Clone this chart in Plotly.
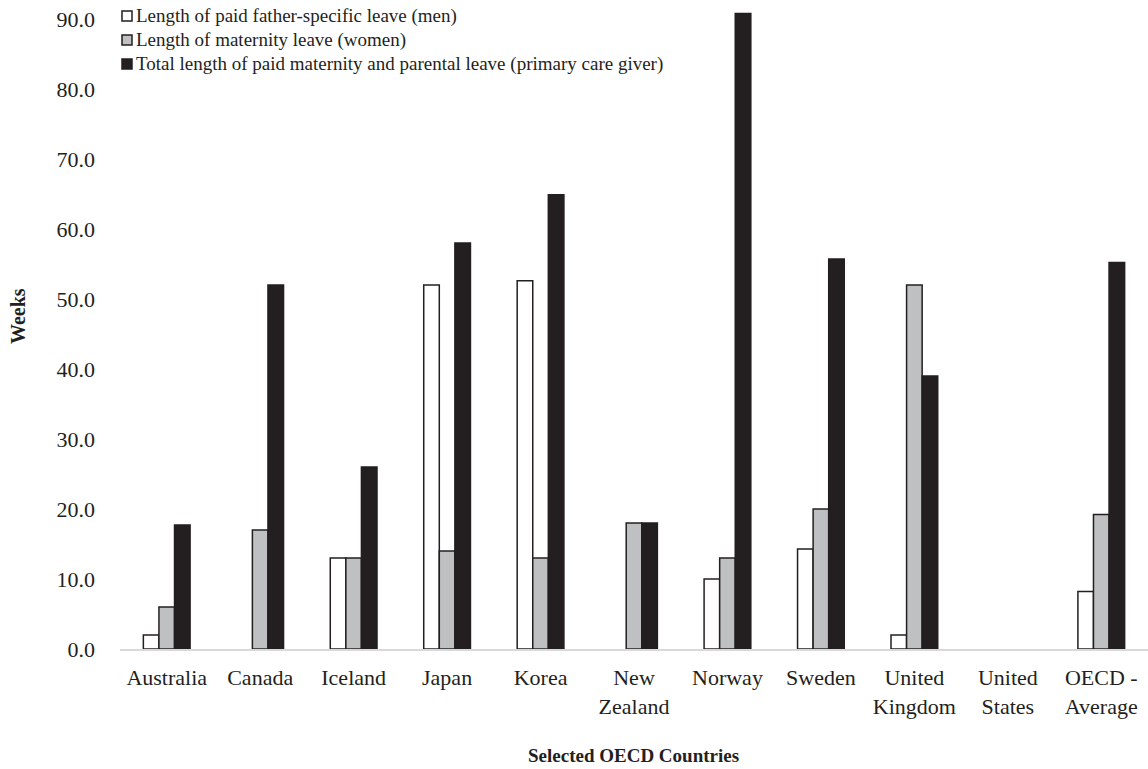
import plotly.graph_objects as go

countries = ["Australia", "Canada", "Iceland", "Japan", "Korea", "New<br>Zealand",
             "Norway", "Sweden", "United<br>Kingdom", "United<br>States", "OECD -<br>Average"]
father_leave = [2.0, 0.0, 13.0, 52.0, 52.6, 0.0, 10.0, 14.3, 2.0, 0.0, 8.2]
maternity_leave = [6.0, 17.0, 13.0, 14.0, 13.0, 18.0, 13.0, 20.0, 52.0, 0.0, 19.2]
total_leave = [17.7, 52.0, 26.0, 58.0, 64.9, 18.0, 90.8, 55.7, 39.0, 0.0, 55.2]

series_names = [
    "Length of paid father-specific leave (men)",
    "Length of maternity leave (women)",
    "Total length of paid maternity and parental leave (primary care giver)",
]

dark = "#231f20"
grey = "#bfc0c2"
fills = ["white", grey, dark]
series_values = [father_leave, maternity_leave, total_leave]

# figure geometry (pixels)
W, H = 1148, 769
ML, MR, MT, MB = 120, 0, 5, 120
PW, PH = W - ML - MR, H - MT - MB


def px_x(x):
    return (x - ML) / PW


def px_y(y):
    return (H - MB - y) / PH


fig = go.Figure()
for name, vals, fill in zip(series_names, series_values, fills):
    # no outline on empty (zero) bars
    widths = [0 if v == 0 else 1.5 for v in vals]
    fig.add_trace(go.Bar(x=countries, y=vals, name=name, showlegend=False,
                         marker=dict(color=fill, line=dict(color=dark, width=widths))))

# legend drawn as keys + labels at the top-left corner
shapes = []
annotations = []
row_y = [16, 40, 64]
for name, fill, ry in zip(series_names, fills, row_y):
    shapes.append(dict(type="rect", xref="paper", yref="paper",
                       x0=px_x(122), x1=px_x(132), y0=px_y(ry + 5), y1=px_y(ry - 5),
                       fillcolor=fill, line=dict(color=dark, width=1.5), layer="above"))
    annotations.append(dict(text=name, xref="paper", yref="paper", x=px_x(134), y=px_y(ry),
                            xanchor="left", yanchor="middle", showarrow=False,
                            font=dict(size=19, family="Liberation Serif", color=dark)))

# axis titles
annotations.append(dict(text="<b>Weeks</b>", xref="paper", yref="paper",
                        x=px_x(18), y=px_y(316), textangle=-90, showarrow=False,
                        xanchor="center", yanchor="middle",
                        font=dict(size=20, family="Liberation Serif", color=dark)))
annotations.append(dict(text="<b>Selected OECD Countries</b>", xref="paper", yref="paper",
                        x=px_x(633), y=px_y(755), showarrow=False,
                        xanchor="center", yanchor="middle",
                        font=dict(size=19, family="Liberation Serif", color=dark)))

fig.update_layout(
    width=W, height=H,
    margin=dict(l=ML, r=MR, t=MT, b=MB),
    paper_bgcolor="white", plot_bgcolor="white",
    barmode="group", bargap=0.5, bargroupgap=0,
    font=dict(family="Liberation Serif", color=dark, size=22),
    showlegend=False,
    shapes=shapes, annotations=annotations,
    xaxis=dict(showline=True, linecolor="#d9d9d9", linewidth=2, ticks="",
               showgrid=False, ticklabelstandoff=8,
               tickfont=dict(size=22)),
    yaxis=dict(range=[0, 92], tick0=0, dtick=10, tickformat=".1f", showgrid=False,
               zeroline=False, showline=False, ticks="", ticklabelstandoff=24,
               tickfont=dict(size=22)),
)

fig.write_html("out.html")
